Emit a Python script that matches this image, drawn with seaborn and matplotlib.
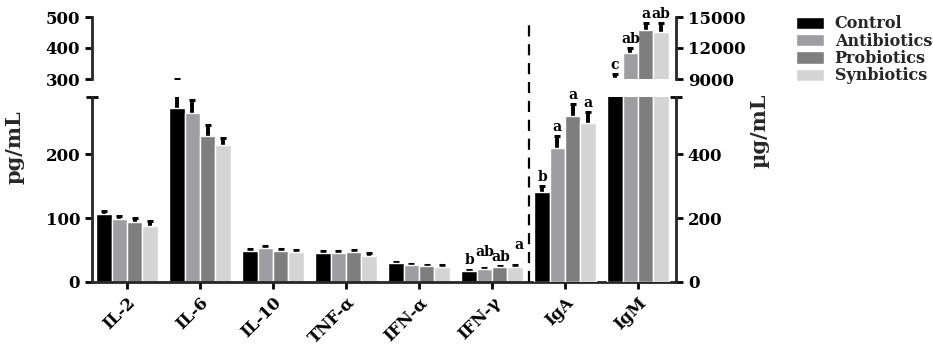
import numpy as np
import pandas as pd
import matplotlib
matplotlib.use("Agg")
import matplotlib.pyplot as plt
import seaborn as sns

# ---------------- data ----------------
categories = ["IL-2", "IL-6", "IL-10", "TNF-\u03b1", "IFN-\u03b1", "IFN-\u03b3", "IgA", "IgM"]
groups = ["Control", "Antibiotics", "Probiotics", "Synbiotics"]
colors = ["#000000", "#9e9ea2", "#7e7e7e", "#d4d4d4"]

# cytokines, pg/mL (left axis)
cyto_names = ["IL-2", "IL-6", "IL-10", "TNF-\u03b1", "IFN-\u03b1", "IFN-\u03b3"]
cyto_control = [106, 273, 49, 46, 30, 18]
cyto_antibiotics = [98, 265, 53, 45, 26.5, 20]
cyto_probiotics = [94, 229, 48, 47, 25, 23]
cyto_synbiotics = [88, 215, 47, 41, 24, 24]
cyto_err_control = [6, 28, 3, 3, 1.5, 1.5]
cyto_err_antibiotics = [6, 21, 4, 4, 1.5, 2]
cyto_err_probiotics = [7, 17, 3, 3, 1.5, 2.5]
cyto_err_synbiotics = [7, 10, 3, 4, 2, 2.5]

# immunoglobulins, ug/mL (right axis)
ig_names = ["IgA", "IgM"]
ig_control = [283, 9100]
ig_antibiotics = [419, 11490]
ig_probiotics = [520, 13740]
ig_synbiotics = [499, 13580]
ig_err_control = [19, 380]
ig_err_antibiotics = [38, 540]
ig_err_probiotics = [39, 650]
ig_err_synbiotics = [35, 870]

# significance letters
letters = {
    "IFN-\u03b3": ["b", "ab", "ab", "a"],
    "IgA": ["b", "a", "a", "a"],
    "IgM": ["c", "ab", "a", "ab"],
}
# placement tweaks for letters (points): (dx, dy) per group
letter_shift = {
    "IFN-\u03b3": [(0, 0.5), (0, 5.5), (1, 0.5), (3, 8.5)],
}


def long_df(names, vals, errs):
    rows = []
    for g, v, e in zip(groups, vals, errs):
        for n, vi, ei in zip(names, v, e):
            rows.append({"cat": n, "group": g, "value": vi, "err": ei})
    return pd.DataFrame(rows)


cyto_df = long_df(cyto_names,
                  [cyto_control, cyto_antibiotics, cyto_probiotics, cyto_synbiotics],
                  [cyto_err_control, cyto_err_antibiotics, cyto_err_probiotics, cyto_err_synbiotics])
ig_df = long_df(ig_names,
                [ig_control, ig_antibiotics, ig_probiotics, ig_synbiotics],
                [ig_err_control, ig_err_antibiotics, ig_err_probiotics, ig_err_synbiotics])

# ---------------- style ----------------
sns.set_theme(style="ticks")
plt.rcParams["font.family"] = ["DejaVu Serif"]
plt.rcParams["font.weight"] = "bold"
plt.rcParams["axes.linewidth"] = 2.0

W, H = 933, 349
fig = plt.figure(figsize=(W / 100, H / 100), dpi=100)

def rect(x0, y_top, x1, y_bot):
    return [x0 / W, 1 - y_bot / H, (x1 - x0) / W, (y_bot - y_top) / H]

ax_lb = fig.add_axes(rect(92, 97, 676, 282))   # lower, left scale
ax_lt = fig.add_axes(rect(92, 17, 676, 79))    # upper, left scale
ax_rb = fig.add_axes(rect(92, 97, 676, 282))   # lower, right scale
ax_rt = fig.add_axes(rect(92, 17, 676, 79))    # upper, right scale

XLIM = (-0.48, 7.52)
BAR_W = 0.84


def bar_info(ax, df):
    out = []
    for p in list(ax.patches):
        h = p.get_height()
        if p.get_width() <= 0 or np.isnan(h) or h == 0:
            continue
        cx = p.get_x() + p.get_width() / 2
        cat = categories[int(round(cx))]
        sub = df[(df["cat"] == cat) & (np.isclose(df["value"], h))]
        if sub.empty:
            continue
        out.append((cx, h, float(sub["err"].iloc[0]), cat, groups.index(sub["group"].iloc[0])))
    return out


def draw(ax, df, legend=False):
    sns.barplot(data=df, x="cat", y="value", hue="group", order=categories,
                hue_order=groups, palette=colors, errorbar=None, width=BAR_W,
                edgecolor="white", linewidth=1.0, saturation=1, ax=ax, legend=legend)
    for cx, h, e, cat, gi in bar_info(ax, df):
        ax.errorbar(cx, h, yerr=e, fmt="none", ecolor="black", elinewidth=2.8,
                    capsize=2.0, capthick=2.2, zorder=0.9)
    ax.set_xlim(*XLIM)
    ax.set_xlabel("")
    ax.set_ylabel("")


def add_letters(ax, df, lo, hi):
    for cx, h, e, cat, gi in bar_info(ax, df):
        if cat not in letters:
            continue
        top = h + e
        if lo <= top <= hi:
            dx, dy = letter_shift.get(cat, [(0, 0.5)] * 4)[gi]
            ax.annotate(letters[cat][gi], (cx, top), xytext=(dx, 1 + dy),
                        textcoords="offset points", ha="center", va="bottom",
                        fontsize=10, fontweight="bold", color="black")


draw(ax_lb, cyto_df, legend=True)
draw(ax_lt, cyto_df)
draw(ax_rb, ig_df)
draw(ax_rt, ig_df)

ax_lb.set_ylim(0, 290)
ax_lt.set_ylim(300, 500)
ax_rb.set_ylim(0, 580)
ax_rt.set_ylim(9000, 15000)

add_letters(ax_lb, cyto_df, 0, 290)
add_letters(ax_rb, ig_df, 0, 580)
add_letters(ax_rt, ig_df, 9000, 15000)

for ax in (ax_lt, ax_rb, ax_rt):
    ax.patch.set_alpha(0)
    ax.xaxis.set_visible(False)

# spines / ticks
TICK = dict(direction="out", length=5, width=2, labelsize=12, colors="black")
ax_lb.spines[["top", "right"]].set_visible(False)
ax_lb.set_yticks([0, 100, 200])
ax_lb.tick_params(axis="both", **TICK)
ax_lb.set_xticks(range(len(categories)))
ax_lb.set_xticklabels(categories, rotation=45, ha="right", rotation_mode="anchor",
                      fontsize=12, fontweight="bold")

ax_lt.spines[["top", "right", "bottom"]].set_visible(False)
ax_lt.set_yticks([300, 400, 500])
ax_lt.tick_params(axis="y", **TICK)

for ax, yt in ((ax_rb, [0, 200, 400]), (ax_rt, [9000, 12000, 15000])):
    ax.spines[["top", "left", "bottom"]].set_visible(False)
    ax.yaxis.tick_right()
    ax.set_yticks(yt)
    ax.tick_params(axis="y", **TICK)

# break-end marks
for ax, v in ((ax_lb, 290), (ax_lt, 300), (ax_rb, 580), (ax_rt, 9000)):
    ax.set_yticks([v], minor=True)
    ax.tick_params(axis="y", which="minor", direction="inout", length=9, width=2,
                   colors="black")

for ax in (ax_lb, ax_lt, ax_rb, ax_rt):
    for lab in ax.get_yticklabels():
        lab.set_fontweight("bold")

# dashed separator between cytokines and immunoglobulins
sep = (categories.index("IFN-\u03b3") + categories.index("IgA")) / 2
ax_lb.plot([sep, sep], [0, 1.41], transform=ax_lb.get_xaxis_transform(),
           color="black", lw=1.6, ls=(0, (5, 3.5)), clip_on=False, zorder=3)

# axis titles
fig.text(15 / W, 1 - 147 / H, "pg/mL", rotation=90, ha="center", va="center",
         fontsize=15, fontweight="bold")
fig.text(759 / W, 1 - 131 / H, "\u00b5g/mL", rotation=90, ha="center", va="center",
         fontsize=15, fontweight="bold")

# legend
handles, labels = ax_lb.get_legend_handles_labels()
if ax_lb.get_legend() is not None:
    ax_lb.get_legend().remove()
fig.legend(handles, labels, loc="upper left", bbox_to_anchor=(790 / W, 1 - 9 / H),
           frameon=False, handlelength=1.7, handleheight=0.8,
           labelspacing=0.02, handletextpad=0.7, borderaxespad=0,
           prop={"weight": "bold", "size": 11.5})

fig.savefig("out.png", dpi=100)
